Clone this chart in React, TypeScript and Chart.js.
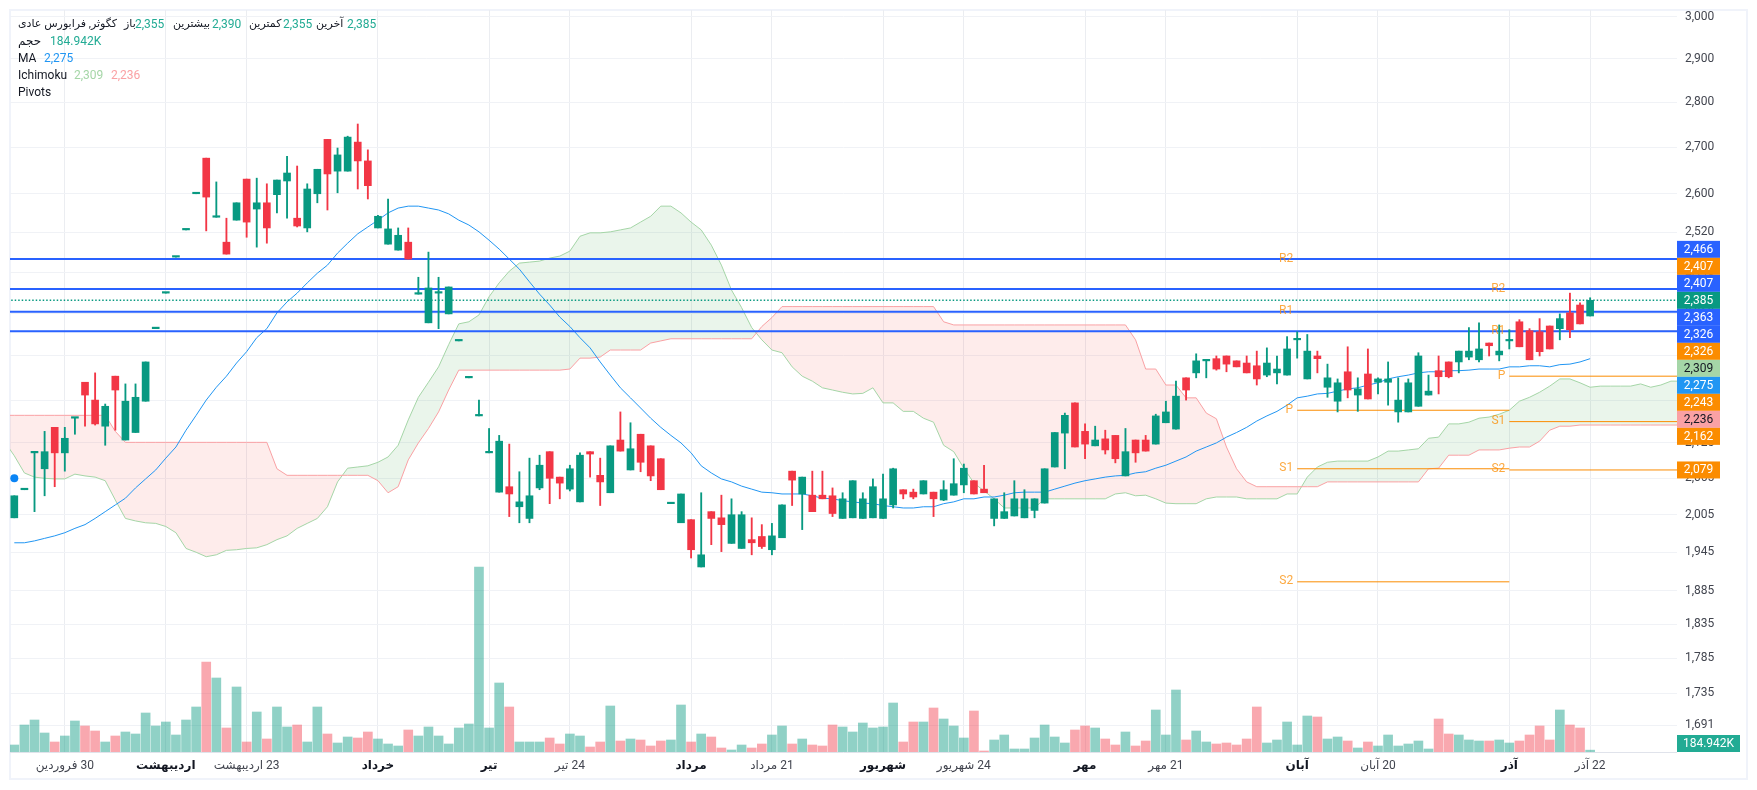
import { useEffect, useRef } from "react"
import { Chart, registerables } from "chart.js"

Chart.register(...registerables)

const FONT = 'Roboto, "DejaVu Sans", sans-serif'

const GREEN = "#089981"
const RED = "#F23645"
const VOL_GREEN = "rgba(8, 153, 129, 0.45)"
const VOL_RED = "rgba(242, 54, 69, 0.43)"
const BLUE = "#2962FF"
const ORANGE = "#FB8C00"
const SPAN_A = "#A5D6A7"
const SPAN_B = "#FAA1A4"
const MA_BLUE = "#2196F3"

const opens = [
  2000, 2046, 2108, 2081, 2152, 2108, 2168, 2232, 2200, 2154,
  2243, 2130, 2143, 2198, 2331, 2399, 2470, 2525, 2600, 2676,
  2551, 2500, 2545, 2631, 2568, 2581, 2598, 2627, 2549, 2529,
  2600, 2717, 2648, 2648, 2711, 2670, 2529, 2496, 2484, 2500,
  2397, 2342, 2399, 2359, 2308, 2240, 2172, 2108, 2042, 2051,
  2018, 1999, 2049, 2110, 2067, 2047, 2026, 2110, 2070, 2041,
  2130, 2079, 2140, 2120, 2098, 2023, 1992, 1997, 1922, 2010,
  2000, 1959, 1951, 1965, 1970, 1949, 1968, 2077, 2039, 2037,
  2037, 2036, 1999, 2000, 1999, 2000, 1999, 2021, 2046, 2042,
  2039, 2042, 2029, 2037, 2054, 2061, 2047, 1999, 1999, 2003,
  2000, 2012, 2024, 2084, 2142, 2195, 2145, 2120, 2132, 2138,
  2069, 2130, 2130, 2123, 2160, 2149, 2240, 2249, 2271, 2275,
  2280, 2271, 2267, 2262, 2245, 2249, 2245, 2310, 2238, 2280,
  2223, 2198, 2251, 2209, 2247, 2232, 2232, 2179, 2179, 2189,
  2209, 2253, 2269, 2269, 2278, 2273, 2304, 2282, 2308, 2344,
  2327, 2325, 2336, 2331, 2361, 2376, 2355,
]
const highs = [
  2036, 2047, 2108, 2145, 2152, 2152, 2168, 2232, 2249, 2193,
  2243, 2229, 2229, 2269, 2331, 2399, 2470, 2525, 2600, 2676,
  2625, 2549, 2581, 2631, 2633, 2621, 2629, 2680, 2659, 2621,
  2652, 2717, 2698, 2724, 2751, 2694, 2555, 2589, 2529, 2529,
  2430, 2480, 2430, 2411, 2308, 2240, 2200, 2150, 2138, 2123,
  2076, 2099, 2104, 2110, 2067, 2087, 2108, 2110, 2099, 2120,
  2179, 2160, 2140, 2120, 2098, 2023, 2039, 1997, 2041, 2010,
  2037, 2031, 2010, 2000, 1989, 1991, 2021, 2077, 2067, 2077,
  2077, 2049, 2041, 2061, 2041, 2064, 2072, 2082, 2046, 2047,
  2061, 2042, 2061, 2098, 2089, 2061, 2087, 2031, 2041, 2061,
  2046, 2031, 2081, 2143, 2177, 2195, 2158, 2154, 2147, 2138,
  2150, 2130, 2138, 2175, 2198, 2234, 2240, 2284, 2271, 2280,
  2280, 2271, 2280, 2289, 2295, 2280, 2316, 2325, 2320, 2289,
  2265, 2238, 2297, 2240, 2293, 2240, 2269, 2240, 2238, 2286,
  2245, 2280, 2269, 2289, 2333, 2342, 2304, 2338, 2329, 2348,
  2331, 2350, 2336, 2359, 2399, 2380, 2390,
]
const lows = [
  2000, 2046, 2010, 2036, 2051, 2077, 2140, 2154, 2156, 2121,
  2147, 2130, 2143, 2198, 2331, 2399, 2470, 2525, 2600, 2523,
  2551, 2476, 2545, 2510, 2490, 2498, 2560, 2549, 2531, 2521,
  2581, 2566, 2602, 2648, 2610, 2589, 2529, 2496, 2484, 2466,
  2397, 2342, 2331, 2359, 2308, 2240, 2172, 2108, 2042, 2002,
  1992, 1992, 2046, 2023, 2031, 2044, 2026, 2067, 2020, 2041,
  2111, 2079, 2076, 2061, 2046, 2023, 1992, 1936, 1922, 1957,
  1946, 1959, 1951, 1941, 1951, 1941, 1968, 2020, 1981, 2010,
  2031, 2002, 1999, 2000, 1999, 2000, 1999, 2016, 2031, 2031,
  2039, 2002, 2028, 2037, 2041, 2039, 2041, 1987, 1999, 2003,
  2000, 2000, 2024, 2084, 2081, 2118, 2098, 2120, 2106, 2091,
  2069, 2092, 2111, 2123, 2160, 2149, 2200, 2240, 2240, 2254,
  2251, 2260, 2249, 2227, 2242, 2229, 2245, 2276, 2238, 2249,
  2205, 2179, 2204, 2180, 2202, 2211, 2191, 2161, 2179, 2189,
  2209, 2211, 2240, 2249, 2273, 2269, 2280, 2271, 2293, 2297,
  2273, 2280, 2293, 2310, 2314, 2340, 2355,
]
const closes = [
  2036, 2047, 2108, 2110, 2108, 2133, 2168, 2209, 2158, 2189,
  2218, 2198, 2205, 2269, 2331, 2399, 2470, 2525, 2600, 2593,
  2551, 2476, 2581, 2541, 2581, 2529, 2629, 2644, 2533, 2610,
  2652, 2642, 2683, 2722, 2670, 2617, 2553, 2527, 2514, 2466,
  2397, 2409, 2399, 2411, 2308, 2240, 2172, 2108, 2128, 2039,
  2026, 2036, 2087, 2065, 2057, 2081, 2104, 2106, 2059, 2120,
  2111, 2115, 2092, 2069, 2046, 2023, 2039, 1949, 1941, 1999,
  1989, 2005, 2005, 1960, 1954, 1971, 2021, 2062, 2067, 2010,
  2031, 2007, 2031, 2061, 2031, 2051, 2031, 2081, 2039, 2034,
  2061, 2031, 2046, 2056, 2082, 2039, 2041, 2031, 2010, 2031,
  2031, 2031, 2081, 2143, 2173, 2118, 2123, 2130, 2113, 2098,
  2110, 2108, 2111, 2172, 2179, 2207, 2218, 2271, 2271, 2256,
  2265, 2260, 2249, 2238, 2267, 2256, 2293, 2310, 2289, 2275,
  2240, 2231, 2218, 2220, 2202, 2238, 2238, 2200, 2231, 2280,
  2216, 2242, 2242, 2289, 2289, 2293, 2299, 2289, 2310, 2297,
  2273, 2288, 2293, 2350, 2329, 2340, 2385,
]

// volume in millions
const volumes = [
  0.7, 2.7, 3.2, 1.9, 1.0, 1.6, 3.1, 2.6, 2.1, 1.0,
  1.6, 2.0, 1.8, 3.9, 2.6, 3.0, 1.7, 3.2, 4.5, 9.0,
  7.4, 2.4, 6.5, 1.0, 4.0, 1.3, 4.5, 2.5, 2.7, 1.0,
  4.5, 1.8, 0.9, 1.5, 1.4, 2.0, 1.3, 0.8, 0.6, 2.2,
  1.6, 2.5, 1.6, 0.8, 2.4, 2.8, 18.5, 2.4, 6.9, 4.5,
  1.0, 1.0, 1.0, 1.4, 0.8, 1.8, 1.6, 0.5, 1.0, 4.6,
  1.1, 1.3, 1.2, 0.6, 1.1, 1.2, 4.7, 1.0, 1.8, 1.5,
  0.4, 0.2, 0.7, 0.4, 0.8, 1.7, 2.6, 0.8, 1.3, 0.7,
  0.6, 2.7, 2.5, 2.0, 2.9, 2.4, 2.5, 4.9, 1.0, 3.0,
  3.0, 4.4, 3.3, 2.6, 1.4, 4.1, 0.1, 1.2, 1.7, 0.3,
  0.3, 1.4, 2.7, 1.5, 0.9, 2.2, 2.6, 2.4, 1.3, 0.7,
  2.0, 0.6, 1.1, 4.2, 1.7, 6.2, 1.2, 2.1, 1.0, 0.8,
  0.9, 0.7, 1.3, 4.5, 0.9, 1.2, 3.0, 0.7, 3.6, 3.5,
  1.3, 1.5, 1.1, 0.4, 1.0, 0.6, 1.7, 0.6, 0.8, 1.1,
  0.3, 3.3, 1.8, 1.7, 1.2, 1.1, 1.1, 1.2, 0.9, 1.1,
  1.7, 2.6, 1.2, 4.2, 2.7, 2.4, 0.185,
]

const maValues = [
  1960, 1960, 1963, 1967, 1971, 1976, 1983, 1989, 1999, 2010,
  2021, 2032, 2049, 2064, 2079, 2099, 2118, 2147, 2173, 2200,
  2223, 2243, 2267, 2288, 2314, 2331, 2361, 2382, 2399, 2419,
  2438, 2454, 2478, 2498, 2517, 2531, 2545, 2560, 2570, 2574,
  2574, 2570, 2566, 2558, 2545, 2535, 2521, 2504, 2486, 2466,
  2446, 2421, 2397, 2376, 2353, 2335, 2314, 2295, 2269, 2245,
  2222, 2204, 2186, 2168, 2152, 2138, 2125, 2108, 2086, 2074,
  2064, 2059, 2052, 2047, 2042, 2041, 2039, 2039, 2039, 2036,
  2032, 2031, 2028, 2026, 2024, 2023, 2020, 2018, 2016, 2016,
  2018, 2018, 2023, 2026, 2031, 2031, 2034, 2034, 2037, 2041,
  2042, 2042, 2042, 2047, 2052, 2057, 2061, 2064, 2067, 2069,
  2070, 2074, 2076, 2082, 2087, 2094, 2101, 2111, 2118, 2125,
  2135, 2143, 2152, 2163, 2172, 2180, 2191, 2204, 2207, 2211,
  2212, 2216, 2220, 2222, 2227, 2231, 2238, 2242, 2245, 2249,
  2251, 2251, 2253, 2253, 2254, 2256, 2256, 2256, 2260, 2260,
  2262, 2262, 2260, 2264, 2265, 2269, 2275,
]

// both cloud spans start one bar before the first candle
const CLOUD_START = -1
const spanAValues = [
  2128,
  2103, 2074, 2067, 2065, 2064, 2064, 2072, 2069, 2067, 2061,
  2029, 1999, 1995, 1992, 1991, 1986, 1976, 1951, 1945, 1938,
  1941, 1948, 1949, 1951, 1952, 1957, 1965, 1971, 1983, 1991,
  1999, 2018, 2059, 2082, 2084, 2086, 2092, 2101, 2121, 2165,
  2205, 2232, 2260, 2301, 2340, 2344, 2357, 2392, 2419, 2442,
  2458, 2460, 2462, 2468, 2472, 2482, 2512, 2519, 2519, 2521,
  2525, 2529, 2541, 2553, 2574, 2574, 2560, 2541, 2525, 2494,
  2454, 2405, 2371, 2333, 2310, 2291, 2286, 2260, 2243, 2234,
  2222, 2218, 2214, 2211, 2212, 2222, 2195, 2195, 2180, 2180,
  2168, 2161, 2121, 2110, 2082, 2057, 2044, 2031, 2016, 2016,
  2016, 2016, 2031, 2031, 2031, 2031, 2031, 2031, 2031, 2039,
  2041, 2036, 2037, 2031, 2024, 2023, 2023, 2023, 2031, 2034,
  2034, 2034, 2031, 2031, 2031, 2031, 2039, 2039, 2067, 2084,
  2092, 2094, 2094, 2094, 2094, 2101, 2111, 2111, 2113, 2115,
  2133, 2135, 2158, 2158, 2161, 2168, 2170, 2175, 2182, 2198,
  2205, 2214, 2225, 2238, 2238, 2231, 2223, 2225, 2225, 2225,
  2225, 2229, 2223, 2227, 2234, 2234,
]
const spanBValues = [
  2173,
  2173, 2173, 2173, 2173, 2173, 2173, 2173, 2173, 2173, 2173,
  2145, 2126, 2126, 2126, 2126, 2126, 2126, 2126, 2126, 2126,
  2126, 2126, 2126, 2126, 2126, 2126, 2081, 2070, 2070, 2070,
  2070, 2070, 2070, 2070, 2070, 2070, 2061, 2041, 2051, 2096,
  2125, 2150, 2179, 2218, 2254, 2254, 2254, 2254, 2254, 2254,
  2254, 2254, 2254, 2254, 2254, 2256, 2276, 2276, 2278, 2291,
  2291, 2291, 2291, 2304, 2308, 2312, 2312, 2312, 2312, 2312,
  2312, 2312, 2312, 2312, 2335, 2352, 2373, 2373, 2373, 2373,
  2373, 2373, 2373, 2373, 2373, 2373, 2373, 2373, 2373, 2373,
  2373, 2373, 2344, 2338, 2338, 2338, 2338, 2338, 2338, 2338,
  2338, 2338, 2338, 2338, 2338, 2338, 2338, 2338, 2338, 2338,
  2338, 2310, 2256, 2256, 2227, 2227, 2204, 2204, 2177, 2167,
  2118, 2081, 2059, 2051, 2051, 2051, 2051, 2051, 2051, 2051,
  2059, 2059, 2059, 2059, 2059, 2059, 2059, 2059, 2059, 2059,
  2081, 2082, 2104, 2104, 2104, 2113, 2113, 2113, 2116, 2118,
  2118, 2128, 2147, 2154, 2154, 2156, 2156, 2156, 2156, 2156,
  2156, 2156, 2156, 2156, 2156, 2156,
]

const srLevels = [2466, 2407, 2363, 2326]
const lastPrice = 2385
const pivotPeriods = [
  { from: 127, to: 148, R2: 2466, R1: 2363, P: 2182, S1: 2081, S2: 1899 },
  { from: 148, to: 165, R2: 2407, R1: 2326, P: 2243, S1: 2162, S2: 2079 },
]
const pivotNames = ["R2", "R1", "P", "S1", "S2"] as const

const priceTicks = [
  3000, 2900, 2800, 2700, 2600, 2520, 2440, 2360, 2280, 2200, 2125, 2065, 2005, 1945, 1885, 1835, 1785, 1735, 1691,
]
const timeTicks = [5, 15, 23, 36, 47, 55, 67, 75, 86, 94, 106, 114, 127, 135, 148, 156]
const timeLabels = [
  "\u200F30 فروردین", "اردیبهشت", "\u200F23 اردیبهشت", "خرداد", "تیر", "\u200F24 تیر", "مرداد", "\u200F21 مرداد",
  "شهریور", "\u200F24 شهریور", "مهر", "\u200F21 مهر", "آبان", "\u200F20 آبان", "آذر", "\u200F22 آذر",
]
const boldLabels = [false, true, false, true, true, false, true, false, true, false, true, false, true, false, true, false]

// tags stacked around the last price, top to bottom
const stackedTags = [
  { value: 2466, bg: BLUE, fg: "#fff" },
  { value: 2407, bg: ORANGE, fg: "#fff" },
  { value: 2407, bg: BLUE, fg: "#fff" },
  { value: 2385, bg: GREEN, fg: "#fff" },
  { value: 2363, bg: BLUE, fg: "#fff" },
  { value: 2326, bg: BLUE, fg: "#fff" },
  { value: 2326, bg: ORANGE, fg: "#fff" },
  { value: 2309, bg: SPAN_A, fg: "#131722" },
  { value: 2275, bg: MA_BLUE, fg: "#fff" },
  { value: 2243, bg: ORANGE, fg: "#fff" },
  { value: 2236, bg: SPAN_B, fg: "#131722" },
  { value: 2162, bg: ORANGE, fg: "#fff" },
]
const TAG_HEIGHT = 17
const LAST_TAG_INDEX = 3

const markerPrice = 2065

const fmt = (v: number) => v.toLocaleString("en-US")
const xy = (values: number[], start = 0) => values.map((y, i) => ({ x: i + start, y }))
const isUp = (i: number) => closes[i] >= opens[i]

// frame + time axis separator, under everything
const framePlugin = {
  id: "frame",
  beforeDraw(chart: Chart) {
    const { ctx, chartArea } = chart
    ctx.save()
    ctx.fillStyle = "#fff"
    ctx.fillRect(0, 0, chart.width, chart.height)
    ctx.strokeStyle = "#f0f3fa"
    ctx.lineWidth = 2
    ctx.strokeRect(10, 10, 1737, 769)
    ctx.strokeStyle = "#e0e3eb"
    ctx.lineWidth = 1
    ctx.beginPath()
    ctx.moveTo(chartArea.left, chartArea.bottom + 0.5)
    ctx.lineTo(chartArea.right, chartArea.bottom + 0.5)
    ctx.stroke()
    ctx.restore()
  },
}

const overlayPlugin = {
  id: "overlay",
  afterDraw(chart: Chart) {
    const { ctx, chartArea, scales } = chart
    const y = scales.y
    const x = scales.x
    ctx.save()
    ctx.font = `12px ${FONT}`

    // pivot level names
    ctx.textAlign = "right"
    ctx.textBaseline = "middle"
    ctx.fillStyle = "rgba(251, 140, 0, 0.75)"
    pivotPeriods.forEach((period) => {
      pivotNames.forEach((name) => {
        ctx.fillText(name, x.getPixelForValue(period.from) - 4, y.getPixelForValue(period[name]) - 0.5)
      })
    })

    // price tags
    const left = chartArea.right
    const width = 43
    ctx.textAlign = "center"
    const drawTag = (text: string, centerY: number, bg: string, fg: string, w = width) => {
      ctx.fillStyle = bg
      ctx.fillRect(left, centerY - TAG_HEIGHT / 2, w, TAG_HEIGHT)
      ctx.fillStyle = fg
      ctx.fillText(text, left + w / 2, centerY + 0.5)
    }
    const anchor = y.getPixelForValue(lastPrice)
    stackedTags.forEach((tag, i) => {
      drawTag(fmt(tag.value), anchor + (i - LAST_TAG_INDEX) * TAG_HEIGHT, tag.bg, tag.fg)
    })
    drawTag(fmt(2079), y.getPixelForValue(2079), ORANGE, "#fff")
    drawTag("184.942K", chartArea.bottom - TAG_HEIGHT / 2, "#22AB94", "#fff", 63)
    ctx.restore()
  },
}

const legendItems = [
  { text: "کگوثر, فرابورس عادی", left: 18, top: 24, color: "#131722", size: 11 },
  { text: "باز", left: 124, top: 24, color: "#131722", size: 11 },
  { text: "2,355", left: 135, top: 24, color: "#22AB94", size: 12 },
  { text: "بیشترین", left: 173, top: 24, color: "#131722", size: 11 },
  { text: "2,390", left: 212, top: 24, color: "#22AB94", size: 12 },
  { text: "کمترین", left: 249, top: 24, color: "#131722", size: 11 },
  { text: "2,355", left: 283, top: 24, color: "#22AB94", size: 12 },
  { text: "آخرین", left: 316, top: 24, color: "#131722", size: 11 },
  { text: "2,385", left: 347, top: 24, color: "#22AB94", size: 12 },
  { text: "حجم", left: 18, top: 41, color: "#131722", size: 12 },
  { text: "184.942K", left: 50, top: 41, color: "#22AB94", size: 12 },
  { text: "MA", left: 18, top: 58, color: "#131722", size: 12 },
  { text: "2,275", left: 44, top: 58, color: MA_BLUE, size: 12 },
  { text: "Ichimoku", left: 18, top: 75, color: "#131722", size: 12 },
  { text: "2,309", left: 74, top: 75, color: SPAN_A, size: 12 },
  { text: "2,236", left: 111, top: 75, color: SPAN_B, size: 12 },
  { text: "Pivots", left: 18, top: 92, color: "#131722", size: 12 },
]

// keep the plot area where the frame puts it: no room reserved for overhanging labels
const dropPadding = (scale: any) => {
  scale.paddingTop = 0
  scale.paddingBottom = 0
  scale.paddingLeft = 0
  scale.paddingRight = 0
}

export default function App() {
  const chartRef = useRef<HTMLCanvasElement>(null)

  useEffect(() => {
    if (!chartRef.current) return

    const lineDefaults = { type: "line" as const, pointRadius: 0, tension: 0, borderWidth: 1, fill: false }

    const datasets: any[] = [
      {
        type: "bar",
        data: opens.map((o, i) => ({ x: i, y: [Math.min(o, closes[i]), Math.max(o, closes[i])] })),
        backgroundColor: opens.map((_, i) => (isUp(i) ? GREEN : RED)),
        barThickness: 7,
        minBarLength: 1.5,
        grouped: false,
        order: 1,
      },
      {
        type: "bar",
        data: highs.map((h, i) => ({ x: i, y: [lows[i], h] })),
        backgroundColor: opens.map((_, i) => (isUp(i) ? GREEN : RED)),
        barThickness: 1.2,
        grouped: false,
        order: 2,
      },
      {
        type: "bar",
        data: xy(volumes),
        yAxisID: "yVolume",
        backgroundColor: volumes.map((_, i) => (isUp(i) ? VOL_GREEN : VOL_RED)),
        barThickness: 9,
        grouped: false,
        order: 20,
      },
      {
        ...lineDefaults,
        data: xy(spanAValues, CLOUD_START),
        borderColor: SPAN_A,
        fill: { target: "+1", above: "rgba(67, 160, 71, 0.11)", below: "rgba(244, 67, 54, 0.1)" },
        order: 9,
      },
      {
        ...lineDefaults,
        data: xy(spanBValues, CLOUD_START),
        borderColor: SPAN_B,
        order: 8,
      },
      { ...lineDefaults, data: xy(maValues), borderColor: MA_BLUE, order: 7 },
      {
        ...lineDefaults,
        data: [
          { x: -1, y: lastPrice },
          { x: 165, y: lastPrice },
        ],
        borderColor: GREEN,
        borderWidth: 1.5,
        borderDash: [1.5, 2],
        order: 4,
      },
      ...srLevels.map((level) => ({
        ...lineDefaults,
        data: [
          { x: -1, y: level },
          { x: 165, y: level },
        ],
        borderColor: BLUE,
        borderWidth: 2,
        order: 3,
      })),
      ...pivotPeriods.flatMap((period) =>
        pivotNames.map((name) => ({
          ...lineDefaults,
          data: [
            { x: period.from, y: period[name] },
            { x: period.to, y: period[name] },
          ],
          borderColor: ORANGE,
          order: 6,
        }))
      ),
      {
        type: "line",
        data: [{ x: 0, y: markerPrice }],
        pointRadius: 4,
        pointBackgroundColor: "#0A84F5",
        pointBorderWidth: 0,
        showLine: false,
        order: 0,
      },
    ]

    const chart = new Chart(chartRef.current, {
      type: "bar",
      data: { datasets },
      plugins: [framePlugin, overlayPlugin],
      options: {
        animation: false,
        responsive: false,
        events: [],
        font: { family: FONT, size: 12 },
        layout: { padding: { left: 10, top: 10, right: 10, bottom: 11 } },
        plugins: { legend: { display: false }, tooltip: { enabled: false } },
        scales: {
          x: {
            type: "linear",
            offset: false,
            min: -0.426,
            max: 164.6,
            afterFit: (scale: any) => {
              scale.height = 27
              dropPadding(scale)
            },
            afterBuildTicks: (scale: any) => {
              scale.ticks = timeTicks.map((value) => ({ value }))
            },
            grid: { color: "#ebedf1", offset: false, drawTicks: false },
            border: { display: false },
            ticks: {
              autoSkip: false,
              maxRotation: 0,
              padding: 7,
              color: (ctx: any) => (boldLabels[timeTicks.indexOf(ctx.tick?.value)] ? "#131722" : "#42454f"),
              font: (ctx: any) => ({
                family: FONT,
                size: 12,
                weight: boldLabels[timeTicks.indexOf(ctx.tick?.value)] ? "bold" : "normal",
              }),
              callback: (value: any) => timeLabels[timeTicks.indexOf(value)],
            },
          },
          y: {
            type: "logarithmic",
            position: "right",
            min: 1654.6,
            max: 3017,
            afterFit: (scale: any) => {
              scale.width = 70
              dropPadding(scale)
            },
            afterBuildTicks: (scale: any) => {
              scale.ticks = priceTicks.map((value) => ({ value }))
            },
            grid: { color: "#f0f2f6", drawTicks: false },
            border: { display: false },
            ticks: {
              autoSkip: false,
              padding: 8,
              color: "#42454f",
              font: { family: FONT, size: 12 },
              callback: (value: any) => fmt(Number(value)),
            },
          },
          yVolume: {
            type: "linear",
            display: false,
            min: 0,
            max: 74.2,
            grid: { display: false },
          },
        },
      } as any,
    })

    return () => chart.destroy()
  }, [])

  return (
    <div
      style={{ position: "absolute", left: 0, top: 0, width: 1757, height: 790, overflow: "hidden", background: "#fff" }}
    >
      <canvas ref={chartRef} width={1757} height={790} style={{ display: "block" }} />
      {legendItems.map((item, i) => (
        <span
          key={i}
          style={{
            position: "absolute",
            left: item.left,
            top: item.top - 8,
            font: `${item.size}px/16px ${FONT}`,
            color: item.color,
            whiteSpace: "nowrap",
          }}
        >
          {item.text}
        </span>
      ))}
    </div>
  )
}
